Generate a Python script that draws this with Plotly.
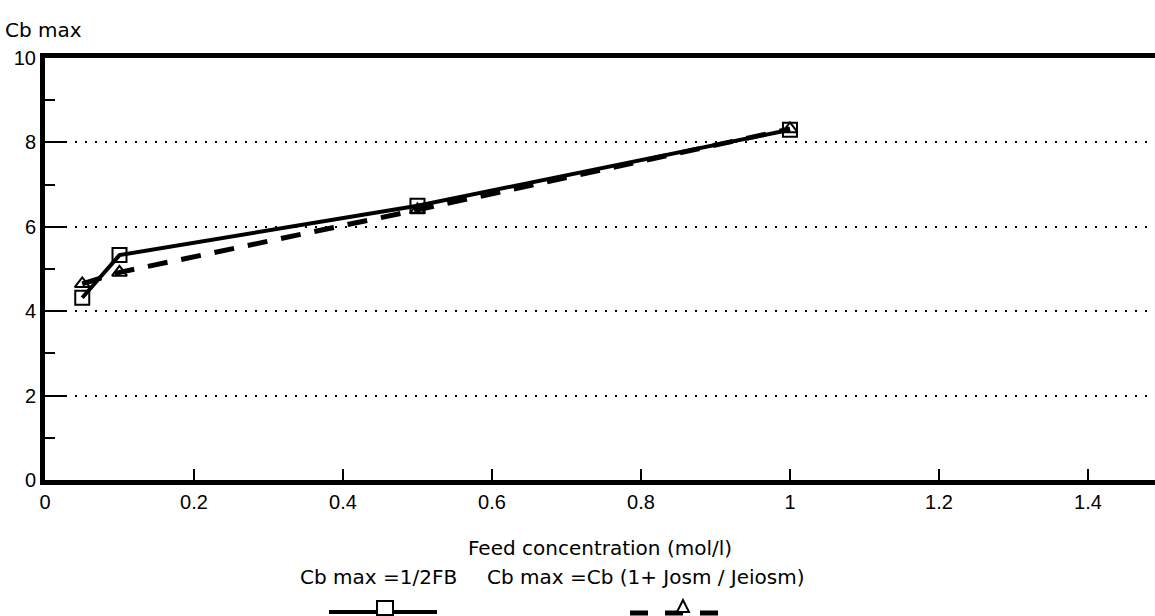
import plotly.graph_objects as go

# Feed concentration (mol/l)
feed = [0.05, 0.1, 0.5, 1.0]
# Cb max = 1/2FB
cb_half_fb = [4.32, 5.33, 6.5, 8.3]
# Cb max = Cb (1+ Josm / Jeiosm)
cb_josm = [4.65, 4.92, 6.4, 8.32]

x_ticks = [0, 0.2, 0.4, 0.6, 0.8, 1, 1.2, 1.4]
x_labels = ["0", "0.2", "0.4", "0.6", "0.8", "1", "1.2", "1.4"]
y_ticks = [0, 2, 4, 6, 8, 10]
y_labels = ["0", "2", "4", "6", "8", "10"]

legend_names = ["Cb max =1/2FB", "Cb max =Cb (1+ Josm / Jeiosm)"]

W, H = 1155, 616
L, R, T, B = 45, 0, 58, 136
TICK_FONT = "Liberation Sans, Arial, sans-serif"
TEXT_FONT = "DejaVu Sans, sans-serif"


def px(xp):
    return (xp - L) / (W - L - R)


def py(yp):
    return (H - B - yp) / (H - B - T)


fig = go.Figure()

fig.add_trace(go.Scatter(
    x=feed, y=cb_josm, mode="lines+markers", name=legend_names[1],
    line=dict(color="black", width=5, dash="20px,14px"),
    marker=dict(symbol="triangle-up-open", size=13, color="black",
                line=dict(width=2, color="black")),
))
fig.add_trace(go.Scatter(
    x=feed, y=cb_half_fb, mode="lines+markers", name=legend_names[0],
    line=dict(color="black", width=4),
    marker=dict(symbol="square-open", size=14, color="black",
                line=dict(width=2, color="black")),
))

fig.update_layout(
    width=W, height=H,
    margin=dict(l=L, r=R, t=T, b=B),
    paper_bgcolor="white", plot_bgcolor="white",
    showlegend=False,
    font=dict(family=TICK_FONT, size=20, color="black"),
)

fig.update_xaxes(
    range=[0, 1.49],
    tickvals=x_ticks, ticktext=x_labels,
    ticks="inside", ticklen=11, tickwidth=2, tickcolor="black",
    showline=True, linewidth=5, linecolor="black", mirror=True,
    showgrid=False, zeroline=False,
    tickfont=dict(size=20),
    title=dict(text="Feed concentration (mol/l)", standoff=30,
               font=dict(family=TEXT_FONT, size=20)),
)
fig.update_yaxes(
    range=[0, 10],
    tickvals=y_ticks, ticktext=y_labels,
    ticks="inside", ticklen=20, tickwidth=2, tickcolor="black",
    showline=True, linewidth=5, linecolor="black",
    showgrid=True, gridcolor="black", gridwidth=2, griddash="2px,8px",
    zeroline=False,
    tickfont=dict(size=20),
    minor=dict(dtick=1, tick0=1, ticks="inside", ticklen=10,
               tickwidth=2, tickcolor="black", showgrid=False),
)

# Axis title above the y axis
fig.add_annotation(text="Cb max", xref="paper", yref="paper",
                   x=px(3), y=py(30), xanchor="left", yanchor="middle",
                   showarrow=False, font=dict(family=TEXT_FONT, size=20))

# Legend texts
fig.add_annotation(text=legend_names[0], xref="paper", yref="paper",
                   x=px(298), y=py(577), xanchor="left", yanchor="middle",
                   showarrow=False, font=dict(family=TEXT_FONT, size=20))
fig.add_annotation(text=legend_names[1], xref="paper", yref="paper",
                   x=px(485), y=py(577), xanchor="left", yanchor="middle",
                   showarrow=False, font=dict(family=TEXT_FONT, size=20))

# Legend sample: solid line with square
fig.add_shape(type="line", xref="paper", yref="paper",
              x0=px(329), x1=px(437), y0=py(612), y1=py(612),
              line=dict(color="black", width=4))
fig.add_shape(type="rect", xref="paper", yref="paper",
              x0=px(377), x1=px(393), y0=py(601), y1=py(615),
              line=dict(color="black", width=2), fillcolor="white")

# Legend sample: dashed line with triangle
fig.add_shape(type="line", xref="paper", yref="paper",
              x0=px(630), x1=px(728), y0=py(613), y1=py(613),
              line=dict(color="black", width=5, dash="18px,17px"))
tx, ty = 683, 606
fig.add_shape(type="path", xref="paper", yref="paper",
              path=(f"M {px(tx - 6)} {py(ty + 6)} L {px(tx + 6)} {py(ty + 6)} "
                    f"L {px(tx)} {py(ty - 6)} Z"),
              line=dict(color="black", width=2), fillcolor="white")

fig.write_html("out.html")
